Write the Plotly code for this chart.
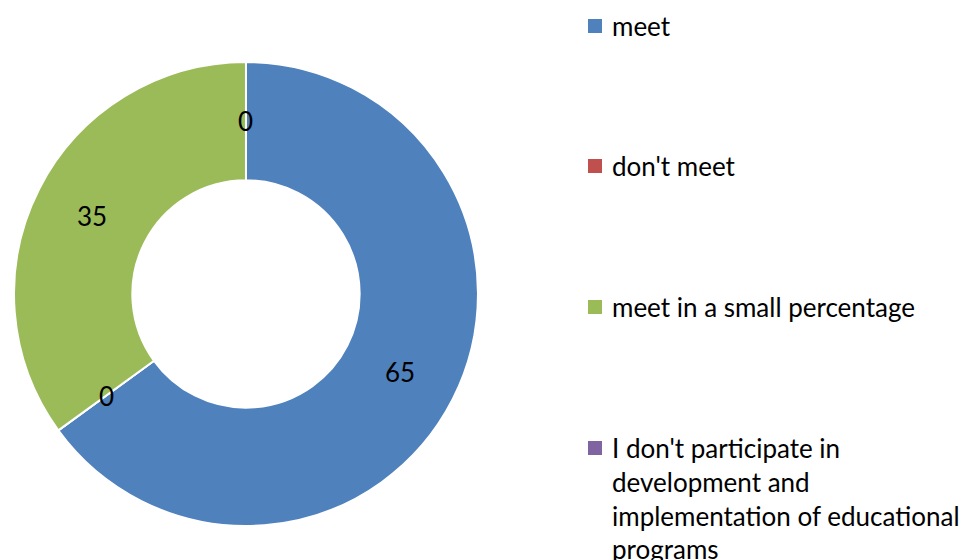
import math
import plotly.graph_objects as go

# Survey answers and the share of respondents for each
categories = [
    "meet",
    "don't meet",
    "meet in a small percentage",
    "I don't participate in development and implementation of educational programs",
]
legend_labels = [
    "meet",
    "don't meet",
    "meet in a small percentage",
    "I don't participate in<br>development and<br>implementation of educational<br>programs",
]
values = [65, 0, 35, 0]
colors = ["#4F81BD", "#C0504D", "#9BBB59", "#8064A2"]

FONT = "Lato, Open Sans, sans-serif"
W, H = 966, 560
HOLE = 0.49
DOM_X = [0.0145, 0.4948]
DOM_Y = [0.0607, 0.8893]

fig = go.Figure(
    go.Pie(
        labels=categories,
        values=values,
        hole=HOLE,
        sort=False,
        direction="clockwise",
        rotation=0,
        marker=dict(colors=colors, line=dict(color="white", width=2)),
        textinfo="none",
        hoverinfo="label+value",
        showlegend=False,
        domain=dict(x=DOM_X, y=DOM_Y),
    )
)

# Value labels: one per slice, placed mid-ring at the slice's middle angle
# (zero-value slices still get their "0" at the boundary where they sit)
cx = (DOM_X[0] + DOM_X[1]) / 2
cy = (DOM_Y[0] + DOM_Y[1]) / 2
radius_px = min((DOM_X[1] - DOM_X[0]) * W, (DOM_Y[1] - DOM_Y[0]) * H) / 2
label_r = radius_px * (1 + HOLE) / 2
total = sum(values)
annotations = []
acc = 0
for v in values:
    mid = (acc + v / 2) / total * 2 * math.pi
    acc += v
    annotations.append(dict(
        text=str(v), xref="paper", yref="paper",
        x=cx + label_r * math.sin(mid) / W,
        y=cy + label_r * math.cos(mid) / H,
        xanchor="center", yanchor="middle", showarrow=False,
        font=dict(family=FONT, size=26, color="black"),
    ))

# Legend drawn as coloured squares with text beside them
legend_y = [26, 166, 307, 448]
shapes = []
for lab, col, yc in zip(legend_labels, colors, legend_y):
    shapes.append(dict(
        type="rect", xref="paper", yref="paper",
        x0=588 / W, x1=602 / W,
        y0=1 - (yc + 7) / H, y1=1 - (yc - 7) / H,
        fillcolor=col, line=dict(width=0),
    ))
    annotations.append(dict(
        text=lab, xref="paper", yref="paper",
        x=610 / W, y=1 - (yc - 18) / H,
        xanchor="left", yanchor="top", align="left",
        showarrow=False,
        font=dict(family=FONT, size=26, color="black"),
    ))

fig.update_layout(
    width=W, height=H,
    margin=dict(l=0, r=0, t=0, b=0),
    paper_bgcolor="white", plot_bgcolor="white",
    shapes=shapes, annotations=annotations,
)

fig.write_html("out.html")
